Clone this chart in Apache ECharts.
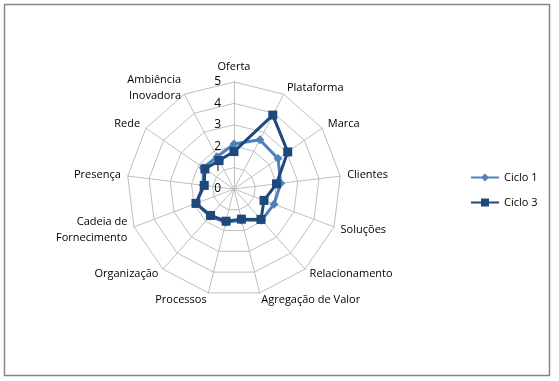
<!DOCTYPE html>
<html><head><meta charset="utf-8">
<script src="https://cdn.jsdelivr.net/npm/echarts@6/dist/echarts.min.js"></script>
<style>html,body{margin:0;padding:0;background:#fff}#c{width:559px;height:381px}</style>
</head><body><div id="c"></div>
<script>
// Categories in clockwise order starting at top
const categories = ['Oferta','Plataforma','Marca','Clientes','Soluções','Relacionamento','Agregação de Valor','Processos','Organização','Cadeia de\nFornecimento','Presença','Rede','Ambiência\nInovadora'];
const ciclo1 = [2.1, 2.6, 2.5, 2.2, 2.0, 1.95, 1.5, 1.6, 1.7, 1.9, 1.45, 1.75, 1.7];
const ciclo3 = [1.75, 3.9, 3.05, 2.0, 1.5, 1.9, 1.45, 1.55, 1.65, 1.9, 1.4, 1.65, 1.5];
const tickLabels = ['0','1','2','3','4','5'];
const maxVal = 5;

// ECharts radar lays indicators counter-clockwise; reorder to get clockwise
const reorder = a => [a[0]].concat(a.slice(1).reverse());

const FONT = 'Open Sans';
const chart = echarts.init(document.getElementById('c'));
chart.setOption({
  animation: false,
  textStyle: {fontFamily: FONT},
  graphic: [{type:'rect', shape:{x:4.5,y:4.5,width:545,height:371}, style:{fill:'none', stroke:'#868686', lineWidth:1.5}}],
  legend: {
    orient: 'vertical', left: 466, top: 167, itemGap: 14, itemWidth: 28, itemHeight: 9,
    textStyle: {fontSize: 11, color: '#000', fontFamily: FONT},
    data: [
      {name:'Ciclo 1', icon:'path://M0,3.5L28,3.5L28,5.5L0,5.5Z M14,0.5L18,4.5L14,8.5L10,4.5Z'},
      {name:'Ciclo 3', icon:'path://M0,3.5L28,3.5L28,5.5L0,5.5Z M10,0.5L18,0.5L18,8.5L10,8.5Z'}
    ]
  },
  radar: {
    center: [234, 189], radius: 107, startAngle: 90, shape: 'polygon', splitNumber: 5,
    indicator: reorder(categories).map(n => ({name: n, min: 0, max: maxVal})),
    axisName: {color: '#000', fontSize: 11, fontFamily: FONT, lineHeight: 16},
    nameGap: 7,
    splitLine: {lineStyle: {color: '#BEBEBE', width: 1}},
    splitArea: {show: false},
    axisLine: {lineStyle: {color: '#BEBEBE', width: 1}},
    axisLabel: {show: false}
  },
  polar: {center: [234, 189], radius: 107},
  angleAxis: {type: 'value', startAngle: 90, show: false, min: 0, max: 360},
  radiusAxis: {
    type: 'value', min: 0, max: maxVal, interval: 1,
    axisLine: {show: false}, axisTick: {show: false}, splitLine: {show: false},
    axisLabel: {show: true, color: '#000', fontSize: 12, fontFamily: FONT, padding: [0, 5, 12, 0], formatter: v => tickLabels[v]}
  },
  series: [
    {type: 'radar', name: 'Ciclo 1', symbol: 'diamond', symbolSize: 9,
     lineStyle: {color: '#4F81BD', width: 3}, itemStyle: {color: '#4F81BD'},
     data: [{value: reorder(ciclo1), name: 'Ciclo 1'}]},
    {type: 'radar', name: 'Ciclo 3', symbol: 'rect', symbolSize: 9,
     lineStyle: {color: '#1F497D', width: 3}, itemStyle: {color: '#1F497D'},
     data: [{value: reorder(ciclo3), name: 'Ciclo 3'}]}
  ]
});
</script></body></html>
